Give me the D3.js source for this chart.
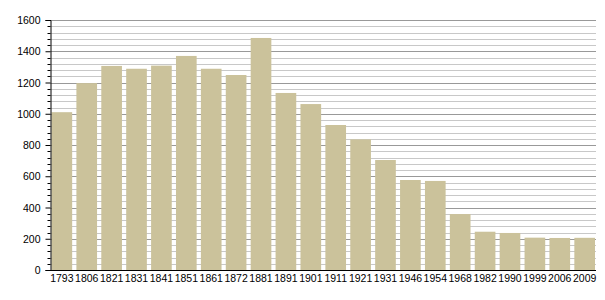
<!DOCTYPE html>
<html>
<head>
<meta charset="utf-8">
<script src="https://cdn.jsdelivr.net/npm/d3@7"></script>
<style>
	body { margin: 0; background: #fff; }
	text { font-family: "Liberation Sans", Arial, sans-serif; fill: #000; }
</style>
</head>
<body>
<div id="chart"></div>
<script>
'use strict';

var years = ['1793', '1806', '1821', '1831', '1841', '1851', '1861', '1872', '1881', '1891', '1901',
	'1911', '1921', '1931', '1946', '1954', '1968', '1982', '1990', '1999', '2006', '2009'];
var population = [1010, 1196, 1306, 1288, 1308, 1370, 1288, 1248, 1485, 1133, 1062,
	928, 836, 704, 576, 570, 358, 245, 237, 207, 205, 206];
var majorTicks = [0, 200, 400, 600, 800, 1000, 1200, 1400, 1600];

var width = 605;
var height = 300;
var plotLeft = 50.5;
var plotRight = 596;
var plotTop = 20;
var plotBottom = 270;

var svg = d3.select('#chart').append('svg')
	.attr('width', width)
	.attr('height', height);

var x = d3.scaleBand()
	.domain(years)
	.range([plotLeft, plotRight])
	.paddingInner(0.17)
	.paddingOuter(0.04);

var y = d3.scaleLinear()
	.domain([0, 1600])
	.range([plotBottom, plotTop]);

// minor grid every 40, major every 200
var minor = d3.range(40, 1600, 40).filter(function (v) { return v % 200 !== 0; });

function py(d) {
	return Math.round(y(d)) + 0.5;
}

svg.append('g').selectAll('line')
	.data(minor)
	.enter().append('line')
	.attr('x1', plotLeft).attr('x2', plotRight)
	.attr('y1', py)
	.attr('y2', py)
	.attr('stroke', '#c8c8c8');

svg.append('g').selectAll('line')
	.data(majorTicks.slice(1))
	.enter().append('line')
	.attr('x1', plotLeft).attr('x2', plotRight)
	.attr('y1', py)
	.attr('y2', py)
	.attr('stroke', '#999');

// bars
svg.append('g').selectAll('rect')
	.data(population)
	.enter().append('rect')
	.attr('x', function (d, i) { return x(years[i]); })
	.attr('width', x.bandwidth())
	.attr('y', function (d) { return y(d); })
	.attr('height', function (d) { return y(0) - y(d); })
	.attr('fill', '#cbc29b');

// y axis
var yAxis = d3.axisLeft(y).tickValues(majorTicks).tickFormat(d3.format('d')).tickSize(5).tickPadding(5);
var ya = svg.append('g')
	.attr('transform', 'translate(' + plotLeft + ',0)')
	.call(yAxis);
ya.select('.domain').attr('stroke', '#000');
ya.selectAll('.tick text').style('font-size', '10.5px').attr('x', -10).attr('dy', '0.35em');

svg.append('g').selectAll('line')
	.data(minor)
	.enter().append('line')
	.attr('x1', plotLeft - 3).attr('x2', plotLeft)
	.attr('y1', py)
	.attr('y2', py)
	.attr('stroke', '#000');

// x axis
var xAxis = d3.axisBottom(x).tickSize(0).tickPadding(4);
var xa = svg.append('g')
	.attr('transform', 'translate(0,' + (plotBottom + 0.5) + ')')
	.call(xAxis);
xa.select('.domain').attr('stroke', '#000').attr('d', 'M' + plotLeft + ',0H' + plotRight);
xa.selectAll('.tick text').style('font-size', '10.5px');
</script>
</body>
</html>
